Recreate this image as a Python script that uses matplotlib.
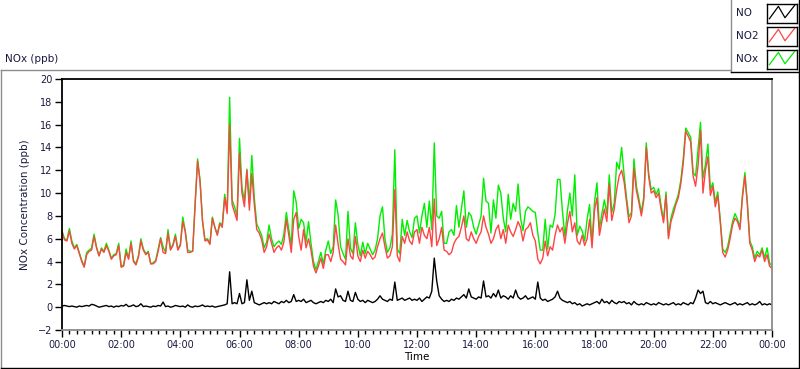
import numpy as np
import matplotlib.pyplot as plt
from matplotlib.lines import Line2D

# 5-minute readings, 00:00 .. 24:00 (289 values)
no2 = [
    6.6, 5.9, 5.8, 6.7, 5.6, 5.1, 5.4, 4.7, 4.0, 3.5, 4.6, 4.9,
    5.0, 6.2, 5.2, 4.5, 5.1, 4.8, 5.4, 4.9, 4.2, 4.5, 4.6, 5.4,
    3.5, 3.6, 4.8, 4.2, 5.6, 4.0, 3.7, 4.4, 5.8, 5.0, 4.6, 4.8,
    3.8, 3.8, 4.0, 4.9, 6.0, 4.8, 4.7, 6.5, 5.0, 5.4, 6.2, 5.0,
    5.4, 7.5, 6.6, 4.8, 4.8, 4.9, 9.0, 12.8, 11.0, 7.5, 5.8, 5.9,
    5.5, 7.8, 7.0, 6.3, 7.3, 7.0, 9.6, 8.2, 16.0, 9.0, 8.3, 7.6,
    13.5, 10.0, 8.8, 12.0, 8.5, 11.7, 9.0, 6.8, 6.5, 5.9, 4.8, 5.3,
    6.4, 5.6, 4.8, 5.2, 5.4, 5.0, 5.7, 7.7, 6.3, 4.8, 7.7, 8.3,
    6.2, 5.0, 6.8, 5.2, 6.0, 5.0, 3.6, 3.0, 3.6, 4.3, 3.4, 4.6,
    4.6, 4.0, 4.8, 7.2, 5.5, 4.2, 4.0, 3.7, 6.0, 4.5, 4.2, 6.2,
    4.5, 4.0, 5.0, 4.3, 4.9, 4.6, 4.2, 4.4, 5.3, 6.0, 6.5, 5.3,
    4.3, 4.5, 5.3, 10.3, 4.5, 4.0, 6.2, 5.6, 6.6, 5.8, 5.5, 6.6,
    6.8, 5.6, 7.0, 6.3, 6.0, 7.0, 5.3, 9.5, 5.4, 6.0, 7.0, 5.0,
    4.9, 4.6, 4.8, 5.6, 6.0, 6.2, 7.0, 8.0, 6.0, 5.8, 6.6, 6.0,
    5.6, 6.2, 6.6, 8.0, 7.0, 6.4, 5.6, 6.0, 6.8, 7.2, 6.0, 6.8,
    5.6, 7.2, 6.6, 6.2, 6.8, 7.5, 7.0, 5.8, 6.8, 7.0, 7.4, 6.3,
    5.8, 4.2, 3.8, 4.3, 5.8, 4.5, 5.3, 5.0, 6.3, 7.2, 6.6, 7.0,
    5.6, 7.3, 8.4, 6.6, 7.4, 5.8, 5.5, 6.3, 5.4, 6.0, 7.7, 5.2,
    8.5, 9.6, 6.3, 7.5, 8.6, 7.5, 10.8, 7.6, 8.6, 10.3, 11.5, 12.0,
    11.0, 9.2, 7.4, 8.0, 12.2, 10.2, 9.2, 8.0, 9.4, 14.0, 11.4, 10.0,
    10.2, 9.6, 10.0, 8.6, 7.4, 9.8, 6.0, 7.5, 8.2, 9.0, 9.6, 10.8,
    12.6, 15.4, 15.0, 14.5, 11.5, 10.6, 12.4, 15.5, 10.0, 12.0, 13.2, 9.8,
    10.6, 8.8, 9.8, 7.5, 4.8, 4.4, 5.0, 6.0, 7.2, 7.8, 7.5, 6.8,
    9.6, 11.5, 9.0, 5.6, 5.0, 4.0, 4.6, 4.4, 5.0, 4.0, 4.6, 3.6,
    3.4,
]

nox = [
    6.7, 6.0, 5.9, 6.9, 5.8, 5.2, 5.5, 4.8, 4.1, 3.6, 4.8, 5.0,
    5.2, 6.4, 5.3, 4.5, 5.2, 4.9, 5.6, 5.0, 4.3, 4.6, 4.7, 5.6,
    3.6, 3.7, 5.1, 4.3, 5.8, 4.1, 3.8, 4.5, 6.0, 5.1, 4.7, 4.9,
    3.8, 3.9, 4.1, 5.1, 6.1, 5.3, 4.8, 6.8, 5.1, 5.5, 6.4, 5.1,
    5.5, 7.9, 6.7, 5.0, 4.9, 4.9, 9.1, 13.0, 11.1, 7.6, 5.9, 6.0,
    5.6, 7.9, 7.0, 6.4, 7.4, 7.2, 9.9, 8.5, 18.4, 9.4, 8.8, 8.0,
    14.8, 10.5, 9.3, 12.1, 9.1, 13.3, 9.6, 7.3, 6.8, 6.3, 5.2, 5.7,
    7.2, 6.0, 5.3, 5.6, 5.8, 5.5, 6.4, 8.3, 6.8, 5.4, 10.2, 9.2,
    6.9, 7.7, 7.4, 5.7, 7.5, 5.6, 4.0, 3.3, 4.0, 4.8, 3.8, 5.0,
    5.8, 4.7, 5.3, 9.4, 8.1, 5.3, 4.7, 4.2, 8.4, 5.2, 4.7, 7.4,
    5.5, 4.5, 5.7, 4.7, 5.6, 5.1, 4.6, 5.0, 6.0, 8.0, 8.8, 6.0,
    4.8, 5.2, 6.4, 13.8, 5.1, 4.7, 7.7, 6.3, 7.6, 6.6, 6.1, 7.8,
    8.0, 6.5, 8.0, 9.1, 7.0, 9.3, 6.8, 14.4, 8.0, 7.8, 8.4, 5.6,
    5.6, 6.6, 6.8, 6.3, 8.9, 7.0, 8.6, 10.2, 7.0, 8.3, 8.0, 7.0,
    6.4, 7.2, 8.0, 11.3, 9.3, 9.1, 6.5, 9.4, 7.8, 10.7, 10.0, 7.8,
    6.6, 9.9, 7.7, 9.1, 8.4, 10.8, 7.8, 6.7, 8.4, 8.8, 8.6, 8.4,
    8.3, 6.5, 5.0, 5.0, 7.7, 5.1, 7.2, 7.0, 8.1, 11.2, 11.2, 8.4,
    6.2, 8.4, 10.0, 8.0, 11.6, 6.3, 7.1, 6.7, 5.8, 7.7, 9.0, 5.6,
    9.2, 10.9, 6.9, 8.2, 9.4, 8.2, 11.6, 8.3, 9.1, 12.7, 12.1, 14.0,
    11.6, 9.6, 7.9, 8.3, 13.0, 10.6, 9.5, 8.3, 9.7, 14.4, 11.7, 10.3,
    10.5, 9.9, 10.4, 8.9, 7.6, 10.1, 6.2, 7.8, 8.6, 9.2, 9.9, 11.1,
    13.0, 15.7, 15.3, 14.9, 11.8, 11.5, 13.9, 16.2, 11.3, 12.5, 14.3, 10.3,
    10.9, 9.2, 10.1, 7.7, 5.1, 4.8, 5.3, 6.4, 7.5, 8.2, 7.7, 7.0,
    9.8, 11.8, 9.2, 5.8, 5.3, 4.3, 4.9, 4.6, 5.2, 4.3, 5.2, 3.9,
    3.6,
]

no = [
    0.1, 0.15, 0.1, 0.05, 0.1, 0.05, 0.0, 0.1, 0.05, 0.1, 0.15, 0.1,
    0.25, 0.2, 0.1, 0.0, 0.05, 0.1, 0.15, 0.05, 0.1, 0.0, 0.1, 0.05,
    0.15, 0.1, 0.25, 0.05, 0.1, 0.2, 0.05, 0.1, 0.3, 0.05, 0.1, 0.05,
    0.0, 0.1, 0.05, 0.15, 0.1, 0.45, 0.05, 0.1, 0.0, 0.05, 0.15, 0.1,
    0.05, 0.1, 0.0, 0.2, 0.05, 0.0, 0.1, 0.05, 0.1, 0.2, 0.05, 0.1,
    0.05, 0.1, 0.0, 0.05, 0.1, 0.15, 0.2, 0.3, 3.1, 0.3, 0.4, 0.3,
    1.2, 0.3, 0.4, 2.4, 0.6, 1.4, 0.4, 0.3, 0.2, 0.3, 0.4, 0.3,
    0.4, 0.3, 0.5, 0.4, 0.3, 0.5, 0.4, 0.6, 0.4, 0.5, 1.1, 0.5,
    0.6, 0.5, 0.7, 0.4, 0.5, 0.6, 0.4, 0.3, 0.4, 0.5, 0.4, 0.6,
    0.5, 0.7, 0.4, 1.6, 0.9, 1.0, 0.6, 0.5, 1.4, 0.6, 0.5, 1.3,
    0.7, 0.5, 0.6, 0.4, 0.6, 0.5, 0.4, 0.5, 0.7, 1.0, 0.7, 0.6,
    0.5, 0.7, 0.6, 2.2, 0.6, 0.7, 0.8, 0.6, 0.7, 0.8, 0.6, 0.7,
    0.6, 0.8, 0.5, 0.7, 0.9, 0.8, 1.4, 4.3, 2.3, 1.0, 0.7, 0.5,
    0.6, 0.5, 0.7, 0.6, 0.8, 0.7, 0.9, 1.1, 0.8, 1.6, 0.9, 0.8,
    0.7, 0.9, 0.8, 2.3, 0.9, 1.0, 0.8, 1.2, 0.9, 1.5, 0.8, 1.0,
    0.9, 0.7, 1.0, 0.8, 1.5, 0.9, 0.7, 0.8, 1.0, 0.7, 0.8, 0.9,
    0.7, 2.2, 0.8, 0.6, 0.7, 0.5, 0.6, 0.7, 0.9, 1.4, 0.8, 0.6,
    0.5, 0.4, 0.5, 0.3, 0.4, 0.2, 0.3, 0.1, 0.2, 0.3, 0.2, 0.3,
    0.4, 0.5, 0.3, 0.7, 0.4, 0.5, 0.3, 0.6, 0.4, 0.3, 0.5, 0.4,
    0.5, 0.3, 0.4, 0.2, 0.5, 0.3, 0.2, 0.3, 0.2, 0.4, 0.3, 0.2,
    0.3, 0.2, 0.4, 0.3, 0.2, 0.3, 0.2, 0.3, 0.4, 0.2, 0.3, 0.2,
    0.4, 0.3, 0.2, 0.4, 0.3, 0.8, 1.5, 1.2, 1.4, 0.4, 0.3, 0.5,
    0.3, 0.4, 0.3, 0.2, 0.3, 0.4, 0.3, 0.2, 0.3, 0.4, 0.2, 0.3,
    0.2, 0.3, 0.4, 0.2, 0.3, 0.2, 0.3, 0.5, 0.2, 0.3, 0.2, 0.3,
    0.2,
]

hour_ticks = list(range(0, 25, 2))
hour_labels = ["00:00", "02:00", "04:00", "06:00", "08:00", "10:00", "12:00",
               "14:00", "16:00", "18:00", "20:00", "22:00", "00:00"]
series_names = ["NO", "NO2", "NOx"]

C_NO = "black"
C_NO2 = "#ff4444"
C_NOX = "#00ee00"
LABEL_C = "#1a1a40"

plt.rcParams["font.family"] = ["DejaVu Sans"]

W, H = 800, 369
fig = plt.figure(figsize=(W / 100, H / 100), dpi=100)


def fx(x):
    return x / W


def fy(y):
    return 1 - y / H


t = np.arange(len(no2)) * 5 / 60

ax = fig.add_axes([fx(62), fy(330), (772 - 62) / W, (330 - 79) / H])
ax.plot(t, nox, color=C_NOX, lw=1.0)
ax.plot(t, no2, color=C_NO2, lw=1.0)
ax.plot(t, no, color=C_NO, lw=1.0)

ax.set_xlim(0, 24)
ax.set_ylim(-2, 20)
ax.set_xticks(hour_ticks)
ax.set_xticklabels(hour_labels)
ax.set_xticks(np.arange(0, 24.01, 0.25), minor=True)
ax.set_yticks(range(-2, 21, 2))
ax.tick_params(axis="both", which="major", labelsize=7, labelcolor=LABEL_C,
               length=5, width=1, color="black", pad=2)
ax.tick_params(axis="x", which="minor", length=3, width=1, color="black")
ax.set_xlabel("Time", fontsize=7.5, labelpad=2)
ax.set_ylabel("NOx Concentration (ppb)", fontsize=7.5, color=LABEL_C, labelpad=6)

for s in ["top", "left"]:
    ax.spines[s].set_color("black")
    ax.spines[s].set_linewidth(1.3)
for s in ["bottom", "right"]:
    ax.spines[s].set_color("#8c8c8c")
    ax.spines[s].set_linewidth(1.3)

# outer panel frame
fig.add_artist(Line2D([fx(0.5), fx(730)], [fy(69.5), fy(69.5)], color="#8c8c8c", lw=1))
fig.add_artist(Line2D([fx(0.8), fx(0.8)], [fy(69.5), fy(368)], color="#8c8c8c", lw=1))
fig.add_artist(Line2D([fx(0.5), fx(799.5)], [fy(367.8), fy(367.8)], color="black", lw=1))
fig.add_artist(Line2D([fx(799.2), fx(799.2)], [fy(0), fy(368)], color="black", lw=1))
fig.text(fx(5), fy(59), "NOx (ppb)", fontsize=7.5, color=LABEL_C, va="center", ha="left")

# legend box
fig.add_artist(Line2D([fx(730.5), fx(730.5)], [fy(0), fy(71.5)], color="#8c8c8c", lw=1))
fig.add_artist(Line2D([fx(730.5), fx(799.5)], [fy(71.5), fy(71.5)], color="black", lw=1))
for i, (name, c) in enumerate(zip(series_names, [C_NO, C_NO2, C_NOX])):
    yc = 13 + 23 * i
    fig.text(fx(736), fy(yc), name, fontsize=7.5, color=LABEL_C, va="center", ha="left")
    sw = fig.add_axes([fx(767), fy(yc + 9.5), 30 / W, 19 / H])
    sw.plot([0.08, 0.38, 0.6, 0.92], [0.2, 0.85, 0.25, 0.9], color=c, lw=0.9)
    sw.set_xlim(0, 1)
    sw.set_ylim(0, 1)
    sw.set_xticks([])
    sw.set_yticks([])
    for s in sw.spines.values():
        s.set_color("black")
        s.set_linewidth(1)

fig.savefig("out.png", dpi=100, facecolor="white")
